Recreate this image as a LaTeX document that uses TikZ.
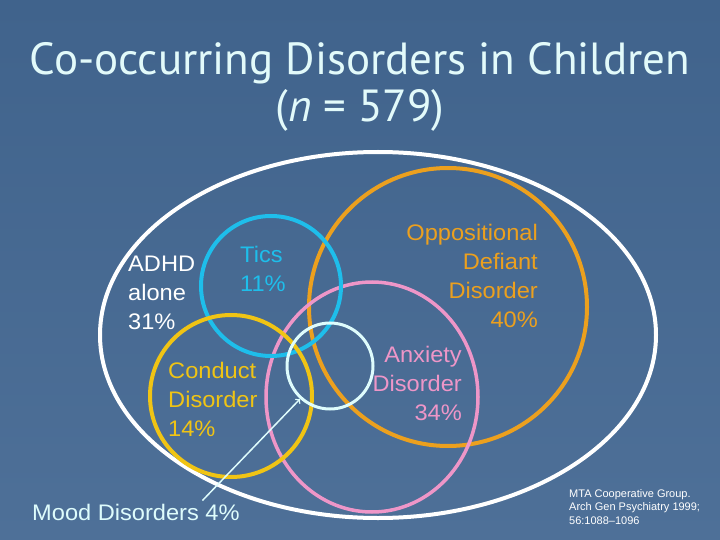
\documentclass[tikz,border=0pt]{standalone}
\usepackage{fontspec}
\setmainfont{Liberation Sans}
\newfontfamily\titlefont{PT Sans}
\usepackage{xcolor}
\usetikzlibrary{calc}
\definecolor{bgtop}{RGB}{64,99,140}
\definecolor{bgmid}{RGB}{90,124,162}
\definecolor{bgbot}{RGB}{78,112,152}
\definecolor{titlecol}{RGB}{226,250,250}
\definecolor{ticscol}{RGB}{30,190,235}
\definecolor{cdcol}{RGB}{240,196,20}
\definecolor{oddcol}{RGB}{236,160,30}
\definecolor{anxcol}{RGB}{238,150,200}
\definecolor{moodcol}{RGB}{222,252,252}

\begin{document}
\begin{tikzpicture}[x=1pt, y=-1pt, every node/.style={inner sep=0pt},
  ring/.style={line width=4pt},
  lbl/.style={font=\fontsize{22.5}{29}\selectfont, xscale=1.05}]
\useasboundingbox (0,0) rectangle (720,540);
\shade[top color=bgtop, middle color=bgmid, bottom color=bgbot] (0,0) rectangle (720,540);
% title
\node[font=\titlefont\fontsize{45}{52}\selectfont, text=titlecol, anchor=base] (title) at (360,75) {Co-occurring Disorders in Children};
\node[font=\titlefont\fontsize{45}{52}\selectfont, text=titlecol, anchor=base] (samplesize) at (360,122) {(\textit{n} = 579)};
% circles
\draw[ring, white] (378,335) ellipse (278 and 183);
\draw[ring, oddcol] (448,307) circle (139);
\draw[ring, anxcol, line width=3.5pt] (372,397) ellipse (106 and 115);
\draw[ring, ticscol] (271,286) circle (70);
\draw[ring, cdcol] (231,396) circle (81);
\draw[ring, moodcol, line width=3pt] (330,366) circle (43);
% labels
\node[lbl, text=white, align=left, anchor=north west] (adhd) at (128,256) {ADHD\\alone\\31\%};
\node[lbl, text=ticscol, align=left, anchor=north west] (tics) at (240,246) {Tics\\11\%};
\node[lbl, text=cdcol, align=left, anchor=north west] (conduct) at (168,362) {Conduct\\Disorder\\14\%};
\node[lbl, text=oddcol, align=right, anchor=north east] (odd) at (538,224) {Oppositional\\Defiant\\Disorder\\40\%};
\node[lbl, text=anxcol, align=right, anchor=north east] (anxiety) at (462,346) {Anxiety\\Disorder\\34\%};
\node[lbl, text=moodcol, anchor=base west] (mood) at (32,520) {Mood Disorders 4\%};
\node[font=\fontsize{11}{13.5}\selectfont, text=white, align=left, anchor=north west] (cite) at (569,489) {MTA Cooperative Group.\\Arch Gen Psychiatry 1999;\\56:1088--1096};
% pointer
\coordinate (moodtip) at (300,399);
\draw[moodcol, line width=1.5pt, ->] ($(mood.north west)!0.82!(mood.north east)+(0,-3)$) -- (moodtip);
\end{tikzpicture}
\end{document}
